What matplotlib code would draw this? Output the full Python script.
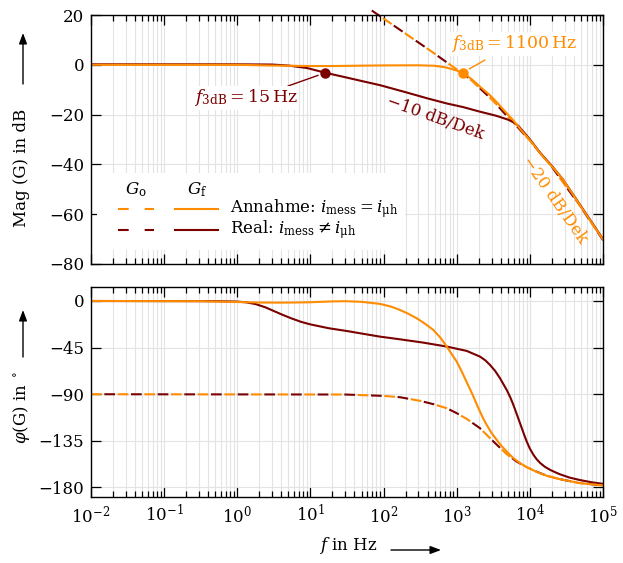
import matplotlib
matplotlib.use("Agg")
import matplotlib.pyplot as plt
from matplotlib.lines import Line2D
from matplotlib.patches import Rectangle, FancyArrowPatch
from matplotlib.ticker import FixedLocator, NullFormatter

# ---- Daten ----
# Betrag G_f, Annahme (orange)
f_mag_annahme = [0.01, 1, 3, 10, 20, 50, 100, 300, 500, 700, 900, 1050, 1200, 1400, 1600,
                 1850, 2100, 2450, 2800, 3500, 4500, 5900, 8000, 10000, 15000, 20000, 28600,
                 50000, 100000]
mag_annahme = [0, 0, -0.3, -0.5, -0.5, -0.35, -0.25, -0.2, -0.4, -1.0, -1.9, -2.5, -3.2,
               -4.5, -5.8, -7.4, -8.9, -10.6, -12.0, -14.9, -18.5, -22.2, -27.0, -30.2,
               -36.8, -40.8, -46.2, -57.0, -70.2]

# Betrag G_f, Real (dunkelrot)
f_mag_real = [0.01, 1, 3, 5, 9, 16, 30, 50, 90, 200, 400, 725, 1230, 2000, 3500, 5000,
              6000, 7000, 8000, 10000, 14000, 20000, 28600, 50000, 100000]
mag_real = [0.2, 0.2, 0.1, -0.3, -1.3, -3.2, -5.0, -6.5, -8.2, -11.0, -13.5, -15.5, -17.0,
            -18.7, -20.5, -22.0, -23.1, -24.6, -26.6, -29.9, -35.6, -40.6, -46.2, -56.8,
            -70.0]

# Betrag G_o (gestrichelt, beide Faelle gleich)
f_mag_offen = [69, 200, 430, 1200, 1600, 2100, 2800, 3500, 4500, 5900, 8000, 10000,
               20000, 50000, 100000]
mag_offen = [21.8, 12.5, 5.8, -3.5, -6.3, -9.6, -13.0, -15.9, -19.5, -23.0, -27.3, -30.4,
             -41.0, -57.2, -70.4]

# Phase G_f, Annahme
f_ph_annahme = [0.01, 0.3, 1, 2, 3.6, 6, 10, 20, 30, 50, 89, 125, 168, 220, 284, 370, 480,
                600, 730, 850, 1000, 1170, 1370, 1530, 1690, 1870, 2080, 2300, 2570, 3000,
                3520, 4100, 4820, 5900, 7340, 9000, 11200, 14000, 17000, 25800, 48000,
                100000]
ph_annahme = [0, -0.2, -1.0, -1.5, -1.6, -1.5, -1.2, -0.4, -0.2, -0.8, -2.8, -5.3, -8.7,
              -12.5, -16.7, -22.0, -28.0, -35.5, -44.0, -51.0, -58.5, -68.0, -78.4, -85.5,
              -92.2, -99.5, -106.7, -113.3, -119.6, -127.5, -134.0, -140.0, -145.3, -151.5,
              -156.5, -160.3, -163.5, -166.5, -168.7, -172.0, -175.8, -178.0]

# Phase G_f, Real
f_ph_real = [0.01, 0.5, 1, 1.33, 1.78, 2.4, 3.16, 4.2, 5.6, 7.5, 10, 17.8, 31.6, 56, 89,
             168, 350, 730, 1370, 2080, 2450, 2850, 3350, 3910, 4820, 5400, 5950, 6600,
             7340, 8150, 9050, 10000, 11200, 12400, 13800, 16000, 18900, 22000, 25800,
             35000, 48000, 70000, 100000]
ph_real = [0, -0.2, -0.6, -1.3, -3.0, -6.0, -9.7, -13.5, -17.0, -20.2, -22.6, -26.3, -29.0,
           -32.0, -34.4, -37.0, -40.2, -44.0, -48.2, -53.7, -57.2, -61.7, -67.5, -74.6,
           -85.8, -93.0, -100.3, -109.0, -118.0, -127.0, -135.6, -142.5, -148.5, -152.8,
           -156.3, -160.0, -163.0, -165.2, -167.3, -170.5, -172.8, -175.0, -176.5]

# Phase G_o
f_ph_offen = [0.01, 30, 100, 168, 316, 480, 730, 1000, 1370, 2080, 3170, 4820, 6600, 9000,
              11200, 17000, 25800, 48000, 100000]
ph_offen = [-90, -90.3, -91.6, -92.9, -96.4, -99.6, -103.5, -108.3, -113.8, -122.8, -135.6,
            -147.8, -155.0, -160.3, -163.5, -168.7, -172.0, -175.8, -178.0]

# f_3dB Punkte
f3db_real, mag3db_real = 16, -3.2
f3db_annahme, mag3db_annahme = 1200, -3.2

ORANGE = "#ff8c00"
DUNKELROT = "#7b0000"
GRID = "#e3e3e3"

W, H = 623, 563
plt.rcParams["font.family"] = ["DejaVu Serif"]
plt.rcParams["mathtext.fontset"] = "dejavuserif"
plt.rcParams["font.size"] = 12
plt.rcParams["lines.scale_dashes"] = False


def px(x, y):
    # Pixel (von oben links) -> Figure-Koordinaten
    return x / W, 1 - y / H


def style(ax):
    ax.set_xscale("log")
    ax.set_xlim(1e-2, 1e5)
    ax.xaxis.set_major_locator(FixedLocator([10.0 ** k for k in range(-2, 6)]))
    ax.xaxis.set_minor_locator(FixedLocator([m * 10.0 ** k for k in range(-2, 5)
                                             for m in range(2, 10)]))
    ax.xaxis.set_minor_formatter(NullFormatter())
    ax.tick_params(which="both", direction="in", top=True, right=True, width=0.9)
    ax.tick_params(which="major", length=7, pad=5)
    ax.tick_params(which="minor", length=4)
    ax.grid(which="major", color=GRID, lw=0.8)
    ax.grid(which="minor", axis="x", color=GRID, lw=0.8)
    ax.set_axisbelow(True)
    for s in ax.spines.values():
        s.set_linewidth(1.0)


DASH_A = (0, (7.7, 11.5))
DASH_B = (9.6, (7.7, 11.5))
LW = 1.5

fig = plt.figure(figsize=(W / 100, H / 100), dpi=100)
ax1 = fig.add_axes([91 / W, 1 - 264 / H, 512 / W, 249 / H])
ax2 = fig.add_axes([91 / W, 1 - 497.3 / H, 512 / W, 210.3 / H])

# ---- Betrag ----
style(ax1)
ax1.set_ylim(-80, 20)
ax1.set_yticks([-80, -60, -40, -20, 0, 20])
ax1.tick_params(labelbottom=False)
ax1.plot(f_mag_offen, mag_offen, color=DUNKELROT, lw=LW, ls=DASH_A, clip_on=False)
ax1.plot(f_mag_offen, mag_offen, color=ORANGE, lw=LW, ls=DASH_B, clip_on=False)
ax1.plot(f_mag_real, mag_real, color=DUNKELROT, lw=LW)
ax1.plot(f_mag_annahme, mag_annahme, color=ORANGE, lw=LW)
ax1.plot([f3db_real], [mag3db_real], "o", color=DUNKELROT, ms=6.5, zorder=5)
ax1.plot([f3db_annahme], [mag3db_annahme], "o", color=ORANGE, ms=6.5, zorder=5)

# Hinweislinien
ax1.annotate("", xy=(f3db_real, mag3db_real), xytext=px(288, 86), textcoords="figure fraction",
             arrowprops=dict(arrowstyle="-", color=DUNKELROT, lw=1.0, shrinkA=0, shrinkB=5.5))
ax1.annotate("", xy=(f3db_annahme, mag3db_annahme), xytext=px(485, 60), textcoords="figure fraction",
             arrowprops=dict(arrowstyle="-", color=ORANGE, lw=1.0, shrinkA=0, shrinkB=5.5))

fig.text(*px(246, 98), r"$f_{\mathrm{3dB}} = 15\,\mathrm{Hz}$", color=DUNKELROT,
         ha="center", va="center", fontsize=12.5, bbox=dict(fc="white", ec="none", pad=1))
fig.text(*px(514, 44), r"$f_{\mathrm{3dB}} = 1100\,\mathrm{Hz}$", color=ORANGE,
         ha="center", va="center", fontsize=12.5, bbox=dict(fc="white", ec="none", pad=1))
fig.text(*px(435, 118), "\u221210 dB/Dek", color=DUNKELROT, ha="center", va="center",
         rotation=-19.5, rotation_mode="anchor")
fig.text(*px(555, 200), "\u221220 dB/Dek", color=ORANGE, ha="center", va="center",
         rotation=-55, rotation_mode="anchor")

# Legende (von Hand)
fig.patches.append(Rectangle(px(97, 250), 308 / W, 77 / H, transform=fig.transFigure,
                             fc="white", ec="none", zorder=3))
fig.text(*px(136, 190), r"$G_\mathrm{o}$", ha="center", va="center", zorder=4)
fig.text(*px(197, 190), r"$G_\mathrm{f}$", ha="center", va="center", zorder=4)
for yy, col, txt in [(209, ORANGE, r"Annahme: $i_\mathrm{mess} = i_\mathrm{μh}$"),
                     (230, DUNKELROT, r"Real: $i_\mathrm{mess} \neq i_\mathrm{μh}$")]:
    x0, y0 = px(118.3, yy)
    x1, _ = px(154.3, yy)
    fig.lines.append(Line2D([x0, x1], [y0, y0], transform=fig.transFigure, color=col,
                            lw=LW, ls=DASH_A, zorder=4))
    x0, _ = px(175, yy)
    x1, _ = px(218, yy)
    fig.lines.append(Line2D([x0, x1], [y0, y0], transform=fig.transFigure, color=col,
                            lw=LW, zorder=4))
    fig.text(*px(230, yy), txt, ha="left", va="center", zorder=4)

# ---- Phase ----
style(ax2)
ax2.set_ylim(-189.5, 13.5)
ax2.set_yticks([-180, -135, -90, -45, 0])
ax2.plot(f_ph_offen, ph_offen, color=ORANGE, lw=LW, ls=DASH_A)
ax2.plot(f_ph_offen, ph_offen, color=DUNKELROT, lw=LW, ls=DASH_B)
ax2.plot(f_ph_real, ph_real, color=DUNKELROT, lw=LW)
ax2.plot(f_ph_annahme, ph_annahme, color=ORANGE, lw=LW)

# Achsenbeschriftungen mit Pfeilen
fig.text(*px(22, 168), "Mag (G) in dB", rotation=90, ha="center", va="center")
fig.text(*px(22, 407), r"$\varphi$(G) in $^\circ$", rotation=90, ha="center", va="center")
fig.text(*px(348, 546), r"$f$ in Hz", ha="center", va="center")
for a, b in [((23, 84), (23, 33)), ((23, 357), (23, 310)), ((391, 550), (441, 550))]:
    fig.add_artist(FancyArrowPatch(px(*a), px(*b), transform=fig.transFigure,
                                   arrowstyle="-|>,head_length=0.8,head_width=0.3",
                                   mutation_scale=8, color="black", lw=1.0,
                                   shrinkA=0, shrinkB=0))

fig.savefig("out.png", dpi=100)
